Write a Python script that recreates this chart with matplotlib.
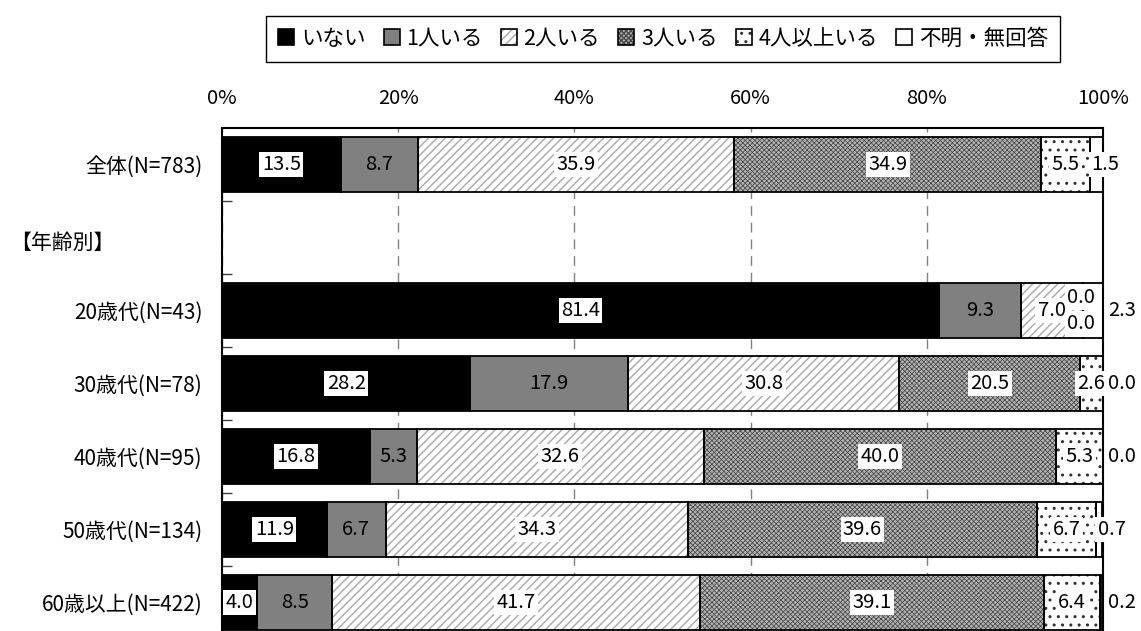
import matplotlib
matplotlib.use('Agg')
import matplotlib.pyplot as plt
from matplotlib.patches import Patch
from matplotlib.legend_handler import HandlerTuple
import numpy as np

plt.rcParams['font.family'] = ['Noto Sans CJK JP', 'DejaVu Sans']
plt.rcParams['font.size'] = 14

# Number of children, by age group (%)
groups = ['全体(N=783)', '20歳代(N=43)', '30歳代(N=78)', '40歳代(N=95)',
          '50歳代(N=134)', '60歳以上(N=422)']
none = [13.5, 81.4, 28.2, 16.8, 11.9, 4.0]
one = [8.7, 9.3, 17.9, 5.3, 6.7, 8.5]
two = [35.9, 7.0, 30.8, 32.6, 34.3, 41.7]
three = [34.9, 0.0, 20.5, 40.0, 39.6, 39.1]
four_plus = [5.5, 0.0, 2.6, 5.3, 6.7, 6.4]
unknown = [1.5, 2.3, 0.0, 0.0, 0.7, 0.2]
series_names = ['いない', '1人いる', '2人いる', '3人いる', '4人以上いる', '不明・無回答']
x_ticks = [0, 20, 40, 60, 80, 100]

series = [none, one, two, three, four_plus, unknown]

# fill style per series: face, hatch, hatch colour, hatch width, label box
styles = [
    dict(face='black', hatch=None, hcol='black', hlw=1.0, box=True),
    dict(face='#808080', hatch=None, hcol='#808080', hlw=1.0, box=False),
    dict(face='white', hatch='////', hcol='#a8a8a8', hlw=1.0, box=True),
    dict(face='#b4b4b4', hatch='xxxxxxx', hcol='#484848', hlw=0.55, box=True),
    dict(face='white', hatch='..', hcol='#303030', hlw=1.0, box=True),
    dict(face='white', hatch=None, hcol='white', hlw=1.0, box=True),
]

# rows: 0 = total, 1 = section heading, 2.. = age groups
rows = [0, 2, 3, 4, 5, 6]
bar_h = 0.74
# x position of the outside labels for the last series
unknown_label_x = [100.3, 102.2, 102.2, 102.2, 101.0, 102.2]

fig = plt.figure(figsize=(11.41, 6.31), dpi=100)
ax = fig.add_axes([222 / 1141, 1 - 639 / 631, 881 / 1141, 511 / 631])

left = np.zeros(len(groups))
for vals, st in zip(series, styles):
    vals = np.array(vals)
    plt.rcParams['hatch.linewidth'] = st['hlw']
    ax.barh(rows, vals, left=left, height=bar_h, color=st['face'],
            hatch=st['hatch'], edgecolor=st['hcol'], linewidth=0, zorder=1)
    ax.barh(rows, vals, left=left, height=bar_h, fill=False,
            edgecolor='black', linewidth=1.3, zorder=1.5)
    left += vals

# value labels
bbox = dict(boxstyle='square,pad=0.12', fc='white', ec='none')
left = np.zeros(len(groups))
last = len(series) - 1
for k, (vals, st) in enumerate(zip(series, styles)):
    for i, (v, y) in enumerate(zip(vals, rows)):
        txt = f'{v:.1f}'
        if k == last:
            ax.text(unknown_label_x[i], y, txt, ha='center', va='center',
                    bbox=bbox, zorder=4, clip_on=False, fontsize=14.5)
        elif v == 0:
            dy = -0.18 if k == 3 else 0.18
            ax.text(left[i] - 0.2, y + dy, txt, ha='center', va='center',
                    bbox=bbox, zorder=4, fontsize=14.5)
        else:
            ax.text(left[i] + v / 2, y, txt, ha='center', va='center',
                    bbox=bbox if st['box'] else None, zorder=4,
                    fontsize=14.5)
    left += np.array(vals)

ax.set_xlim(0, 100)
ax.set_ylim(6.5, -0.5)
ax.xaxis.tick_top()
ax.set_xticks(x_ticks)
ax.set_xticklabels([f'{t}%' for t in x_ticks])
ax.tick_params(axis='x', length=0, pad=14, labelsize=14.5)
ax.set_yticks(rows)
ax.set_yticklabels(groups)
ax.tick_params(axis='y', which='major', length=0, pad=14, labelsize=15)
ax.set_yticks(np.arange(0.5, 6, 1), minor=True)
ax.tick_params(axis='y', which='minor', direction='in', length=7,
               width=1, color='#404040')

ax.set_axisbelow(True)
ax.xaxis.grid(True, linestyle=(0, (7, 5)), color='#808080', linewidth=1)
for s in ['top', 'right', 'left', 'bottom']:
    ax.spines[s].set_linewidth(1.5)
    ax.spines[s].set_color('black')

fig.text(10 / 1141, 1 - 243 / 631, '【年齢別】', ha='left', va='center',
         fontsize=15)

# legend with overlaid fill + outline swatches
handles = []
for st in styles:
    fill = Patch(facecolor=st['face'], hatch=st['hatch'],
                 edgecolor=st['hcol'], linewidth=0)
    outline = Patch(fill=False, edgecolor='black', linewidth=1.2)
    handles.append((fill, outline))
leg = fig.legend(handles, series_names, ncol=6, loc='upper center',
                 bbox_to_anchor=(663 / 1141, 1 - 16 / 631),
                 handler_map={tuple: HandlerTuple(ndivide=1)},
                 handlelength=0.75, handleheight=0.75, handletextpad=0.3,
                 columnspacing=0.85, borderpad=0.55, borderaxespad=0,
                 fancybox=False, framealpha=1, edgecolor='black',
                 fontsize=15.5)
leg.get_frame().set_linewidth(1.0)

fig.savefig('out.png', dpi=100)
